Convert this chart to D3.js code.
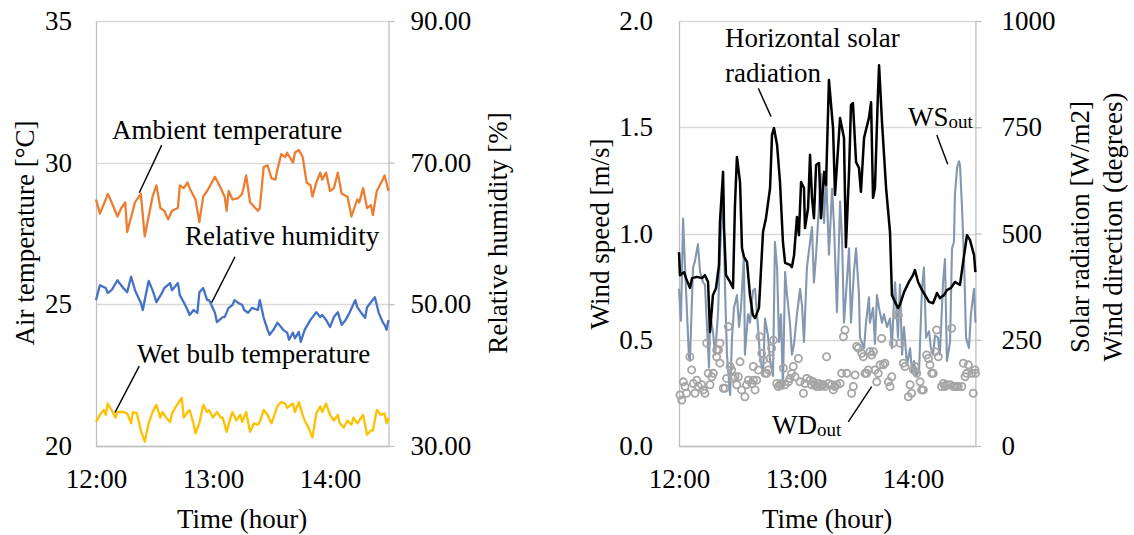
<!DOCTYPE html>
<html>
<head>
<meta charset="utf-8">
<script src="https://cdn.jsdelivr.net/npm/d3@7"></script>
<style>
body { margin: 0; background: #fff; }
svg { display: block; font-family: "Liberation Serif", "Times New Roman", serif; }
</style>
</head>
<body>
<svg id="chart" width="1134" height="535"></svg>
<script>
// all series: [minutes after 12:00, value]
var ambientTemp = [[0,28.7],[2,28.2],[5,28.7],[6,28.9],[8,28.6],[11,28.1],[13,28.4],[15,28.6],[16,27.55],[20,28.6],[23,28.9],[25,27.4],[29,28.8],[31,29.2],[33,28.4],[35,28.3],[37,28.0],[39,28.3],[42,28.4],[43,29.2],[45,29.1],[47,29.3],[48,29.1],[51,28.7],[53,27.9],[55,28.8],[57,29.0],[61,29.5],[64,29.1],[66,28.8],[67,28.3],[68,29.0],[70,28.7],[73,28.75],[75,28.9],[77,29.55],[79,28.6],[83,28.3],[84,28.4],[86,29.85],[88,29.9],[90,29.45],[92,29.4],[93,29.75],[95,30.3],[97,30.2],[98,30.35],[101,30.0],[102,30.35],[104,30.45],[106,30.2],[108,29.3],[110,29.2],[111,28.8],[113,29.3],[115,29.65],[116,29.4],[118,29.65],[120,29.0],[122,29.1],[124,29.65],[126,28.9],[129,28.8],[131,28.1],[134,28.7],[135,28.6],[137,29.1],[139,28.4],[141,28.5],[142,28.15],[144,29.0],[147,29.4],[148,29.55],[150,29.0]];

var relHumidity = [[0,50.6],[2,52.7],[5,52.3],[6,51.6],[8,52.0],[11,53.4],[12,53.0],[14,52.3],[16,51.7],[18,53.9],[20,52.0],[23,50.2],[24,49.2],[26,52.0],[27,53.3],[29,52.0],[31,50.3],[34,51.7],[35,52.3],[38,53.0],[39,52.0],[42,53.0],[43,51.3],[45,50.3],[47,49.2],[48,48.5],[50,49.2],[52,48.8],[53,51.7],[55,52.3],[57,50.6],[58,50.6],[61,48.8],[62,47.5],[65,48.2],[66,48.2],[68,49.5],[70,49.9],[71,50.6],[73,50.2],[75,49.9],[76,49.2],[78,48.8],[80,49.5],[83,49.2],[84,50.6],[86,48.1],[88,46.4],[89,45.7],[91,46.4],[93,47.4],[94,47.1],[96,46.4],[98,46.0],[99,45.0],[101,46.0],[102,45.2],[104,46.1],[105,44.7],[107,46.4],[110,47.8],[113,48.9],[115,48.2],[116,48.5],[118,47.8],[120,46.8],[122,48.2],[124,48.9],[126,47.1],[128,47.8],[130,48.8],[133,50.6],[134,49.6],[136,48.8],[138,48.1],[139,49.6],[143,51.0],[145,48.8],[147,47.5],[148,47.1],[149,46.4],[150,47.8]];

var wetBulbTemp = [[0,20.85],[2,21.1],[4,21.27],[5,21.1],[6,21.5],[8,21.27],[10,21.0],[11,21.2],[14,21.2],[16,21.15],[18,20.8],[19,21.2],[21,21.15],[23,20.55],[25,20.15],[27,20.8],[29,21.2],[31,21.45],[33,21.0],[34,21.2],[36,21.0],[38,20.85],[39,21.15],[41,21.4],[44,21.7],[45,21.0],[47,21.2],[48,21.27],[50,20.8],[51,20.45],[53,20.8],[55,21.45],[57,21.2],[58,21.27],[60,21.0],[62,21.2],[64,21.0],[65,21.0],[67,20.5],[69,21.0],[70,21.2],[72,20.9],[74,21.1],[75,20.85],[77,21.2],[79,20.5],[81,20.8],[83,20.75],[84,20.85],[86,21.27],[88,21.1],[90,20.8],[92,21.2],[93,21.4],[95,21.55],[97,21.5],[98,21.35],[101,21.5],[102,21.2],[104,21.55],[106,21.1],[107,20.9],[109,20.65],[111,20.3],[113,21.15],[115,21.4],[116,21.2],[118,21.5],[120,21.1],[122,20.9],[124,21.1],[125,20.8],[127,20.65],[129,20.9],[131,20.75],[132,21.0],[134,20.8],[135,20.9],[137,21.1],[139,20.4],[141,20.55],[142,20.55],[144,21.27],[146,21.1],[148,21.15],[149,20.8],[150,21.0]];

var solarRad = [[0,456],[0.5,402],[2.6,409],[3.6,395],[5.6,372],[6.7,395],[9.2,398],[11.8,395],[13.3,402],[14.9,386],[15.9,268],[17.4,355],[19,372],[20.5,426],[21,527],[22.6,645],[23.1,513],[24.1,402],[26.2,386],[27.7,372],[28.7,567],[29.7,680],[31.3,621],[32.3,466],[33.3,445],[34.9,433],[36.4,355],[37.9,308],[39,301],[41,325],[43.1,504],[44.6,536],[46.7,607],[47.7,732],[48.7,748],[50.3,708],[51.8,621],[53.3,480],[54.4,431],[56.9,426],[57.9,421],[59,449],[60.5,539],[61.5,496],[62.6,621],[64.1,607],[64.6,513],[66.2,560],[67.2,685],[68.2,584],[69.2,536],[70.3,661],[71.8,666],[72.8,536],[74.4,645],[75.4,614],[76.9,861],[79,748],[80,591],[82.6,772],[84.6,725],[85.6,468],[87.2,645],[88.2,802],[89.2,807],[90.8,668],[92.3,654],[93.3,598],[94.9,725],[97.4,772],[98.5,809],[99.5,584],[100.5,607],[102,826],[102.6,896],[104.1,762],[106.2,607],[108.2,504],[109.2,355],[110.8,339],[112.3,325],[113.3,332],[115.4,362],[117.9,386],[120,402],[121,414],[122.6,386],[124.6,367],[126.2,355],[128.2,339],[130.3,336],[132.3,360],[133.8,348],[135.9,355],[137.4,367],[139.5,372],[141.5,386],[144.1,379],[146.2,449],[147.7,496],[149.2,485],[151.3,449],[152,409]];

var windSpeed = [[0,0.74],[1,0.59],[2.1,1.07],[3.1,0.84],[5.1,0.42],[5.6,0.40],[7.2,0.84],[8.2,0.87],[9.7,0.95],[10.8,0.82],[12.3,0.77],[13.3,0.76],[15.4,0.37],[15.9,0.62],[17.4,0.54],[18.5,0.43],[20,0.62],[21,0.90],[22.6,1.21],[23.6,0.74],[24.6,0.43],[26.2,0.24],[27.2,0.51],[28.2,0.65],[29.7,0.71],[30.8,0.56],[31.8,0.65],[33.3,0.90],[33.8,0.43],[35.4,0.62],[36.4,0.58],[37.9,0.73],[39,0.74],[40.5,0.56],[41.5,0.43],[43.1,0.33],[44.1,0.60],[45.6,0.52],[46.7,0.40],[48.2,0.33],[49.2,0.96],[50.3,0.84],[51.3,0.49],[52.3,0.62],[53.3,0.27],[54.4,0.82],[55.4,0.71],[56.9,0.58],[57.9,0.43],[59,0.48],[60.5,0.62],[62.1,0.74],[63.1,0.66],[64.1,0.49],[65.6,0.84],[67.2,0.96],[68.2,1.03],[69.2,0.77],[70.3,0.90],[71.8,1.13],[72.8,1.28],[74.4,1.05],[75.4,1.29],[76.9,0.90],[78.5,1.21],[79.5,1.04],[81,0.63],[82.6,1.15],[83.6,0.98],[84.6,0.58],[85.6,0.71],[87.2,0.93],[88.2,0.58],[89.7,0.82],[90.8,0.93],[92.3,0.71],[92.8,0.51],[94.9,0.46],[95.9,0.58],[97.4,0.70],[97.9,0.58],[99.5,0.65],[100.5,0.48],[101.5,0.71],[102.6,0.65],[104.1,0.58],[105.1,0.62],[106.7,0.56],[108.2,0.60],[109.2,0.46],[110.3,0.70],[110.8,0.77],[112.3,0.51],[113.3,0.76],[114.4,0.43],[115.4,0.56],[116.9,0.38],[118.5,0.46],[119.5,0.35],[120.5,0.40],[121.5,0.33],[123.1,0.35],[124.6,0.74],[125.6,0.84],[126.7,0.51],[128.2,0.54],[129.2,0.46],[130.3,0.43],[131.3,0.52],[132.8,0.51],[133.8,0.43],[135.4,0.77],[136.4,0.88],[137.4,0.40],[139,0.49],[140,0.93],[141,0.96],[141.5,1.18],[142.6,1.31],[143.6,1.34],[144.1,1.32],[145.1,1.13],[146.2,0.87],[147.2,0.51],[148.7,0.46],[149.7,0.62],[151.3,0.74],[152,0.58]];

var windDir = [[0.5,120],[1.4,108],[2.2,151],[3.1,140],[3.9,124],[5.6,210],[6.5,179],[7.4,147],[8.2,124],[9.1,155],[9.9,140],[11.6,144],[12.5,132],[13.3,124],[14.2,242],[15,171],[15.9,144],[16.8,163],[17.6,171],[19.3,210],[19.3,226],[20.2,226],[21,242],[21,195],[22.7,136],[23.6,136],[24.4,159],[25.3,281],[26.2,187],[27,179],[27.9,159],[28.7,163],[29.6,144],[30.4,163],[31.3,198],[32.1,132],[33.8,116],[34.7,144],[35.6,155],[37.3,147],[38.1,155],[38.1,187],[39,132],[39.8,155],[40.7,179],[41.5,257],[42.4,218],[43.2,202],[44.1,171],[45,171],[45.8,179],[46.7,206],[47.5,230],[48.4,249],[50.1,147],[50.9,140],[51.8,144],[52.6,147],[53.5,183],[54.4,144],[56.1,151],[56.9,159],[57.8,171],[58.6,187],[59.5,163],[61.2,206],[62,151],[63.8,124],[64.6,147],[65.5,159],[67.2,155],[68,144],[68.9,151],[69.7,144],[70.6,140],[71.5,147],[72.3,140],[73.2,144],[74,144],[74.9,140],[75.7,210],[76.6,147],[78.3,144],[79.1,132],[80,140],[80.9,144],[82.6,147],[83.4,171],[84.3,257],[85.1,273],[86,171],[88.5,124],[89.4,140],[90.3,167],[91.1,234],[92,230],[93.7,218],[94.5,210],[95.4,171],[96.2,171],[97.1,179],[97.9,222],[98.8,214],[99.7,222],[100.5,179],[101.4,151],[102.2,171],[103.1,191],[103.9,253],[104.8,191],[105.6,195],[107.4,151],[108.2,140],[109.1,163],[109.9,242],[111.6,308],[112.5,308],[113.3,242],[115,195],[115.9,187],[117.6,116],[118.5,144],[119.3,124],[120.2,179],[121,187],[121.9,171],[123.6,151],[124.4,132],[125.3,132],[127,214],[127.9,206],[128.7,191],[129.6,171],[130.4,171],[131.3,222],[132.1,273],[133,210],[134.7,140],[135.6,147],[136.4,140],[137.3,144],[139,144],[139.8,277],[140.7,140],[141.5,140],[142.4,140],[143.2,140],[145,140],[145.8,195],[146.7,163],[147.5,171],[148.4,191],[150.1,171],[150.9,124],[151.8,179],[152,171]];

var timeTicks = [0, 60, 120];
var timeLabels = ['12:00', '13:00', '14:00'];
var tempTicks = [20, 25, 30, 35];
var rhTicks = [30, 50, 70, 90];
var wsTicks = [0, 0.5, 1, 1.5, 2];
var solarTicks = [0, 250, 500, 750, 1000];

var FONT = 27,
	TOP = 21,
	BOTTOM = 446,
	GRID = '#d9d9d9',
	AXIS = '#bfbfbf';

var svg = d3.select('#chart');
svg.append('rect').attr('width', 1134).attr('height', 535).attr('fill', '#fff');

// scales
var xL = d3.scaleLinear().domain([0, 150]).range([96, 388.5]),
	yTemp = d3.scaleLinear().domain([20, 35]).range([BOTTOM, TOP]),
	yRH = d3.scaleLinear().domain([30, 90]).range([BOTTOM, TOP]);

var xR = d3.scaleLinear().domain([0, 152]).range([679, 975.4]),
	yWS = d3.scaleLinear().domain([0, 2]).range([BOTTOM, TOP]),
	ySolar = d3.scaleLinear().domain([0, 1000]).range([BOTTOM, TOP]);

function styleAxis(g)
{
	g.attr('font-family', null).attr('font-size', FONT);
	g.select('.domain').attr('stroke', AXIS).attr('stroke-width', 1.3);
	g.selectAll('.tick line').attr('stroke', AXIS).attr('stroke-width', 1.3);
	g.selectAll('.tick text').attr('fill', '#000');
}

function grid(x, y, ticks)
{
	svg.append('g').selectAll('line').data(ticks).enter().append('line')
		.attr('x1', x.range()[0]).attr('x2', x.range()[1])
		.attr('y1', function(d){ return Math.round(y(d)) + 0.5; })
		.attr('y2', function(d){ return Math.round(y(d)) + 0.5; })
		.attr('stroke', GRID).attr('stroke-width', 1.3);
}

function frame(x, yLeft, yRight, leftTicks, rightTicks, rightFmt, leftPad, rightPad)
{
	grid(x, yLeft, leftTicks);

	svg.append('g')
		.attr('transform', 'translate(' + x.range()[0] + ',0)')
		.call(d3.axisLeft(yLeft).tickValues(leftTicks).tickSize(0).tickPadding(leftPad)
			.tickFormat(leftTicks[1] % 1 ? d3.format('.1f') : d3.format('d')))
		.call(styleAxis);

	svg.append('g')
		.attr('transform', 'translate(' + x.range()[1] + ',0)')
		.call(d3.axisRight(yRight).tickValues(rightTicks).tickSizeInner(6).tickSizeOuter(0)
			.tickPadding(rightPad).tickFormat(rightFmt))
		.call(styleAxis);

	svg.append('g')
		.attr('transform', 'translate(0,' + BOTTOM + ')')
		.call(d3.axisBottom(x).tickValues(timeTicks).tickSize(0).tickPadding(23)
			.tickFormat(function(d, i){ return timeLabels[i]; }))
		.call(styleAxis);
}

function drawLine(data, x, y, color, width)
{
	svg.append('path')
		.datum(data)
		.attr('fill', 'none')
		.attr('stroke', color)
		.attr('stroke-width', width)
		.attr('stroke-linejoin', 'round')
		.attr('d', d3.line().x(function(d){ return x(d[0]); }).y(function(d){ return y(d[1]); }));
}

function title(txt, x, y, rotate)
{
	svg.append('text')
		.attr('transform', 'translate(' + x + ',' + y + ')' + (rotate ? ' rotate(-90)' : ''))
		.attr('text-anchor', 'middle')
		.attr('dy', rotate ? '0.35em' : 0)
		.attr('font-size', FONT)
		.text(txt);
}

function label(parts, x, y)
{
	var t = svg.append('text').attr('x', x).attr('y', y).attr('font-size', FONT);
	parts.forEach(function(p)
	{
		var s = t.append('tspan').text(p.text);
		if (p.sub) s.attr('font-size', 19).attr('dy', 2);
	});
}

function leader(x, y, a, b)
{
	svg.append('line')
		.attr('x1', x(a[0])).attr('y1', y(a[1]))
		.attr('x2', x(b[0])).attr('y2', y(b[1]))
		.attr('stroke', '#000').attr('stroke-width', 1.4);
}

// ---- left panel
frame(xL, yTemp, yRH, tempTicks, rhTicks, d3.format('.2f'), 24, 16);

drawLine(ambientTemp, xL, yTemp, '#ED7D31', 2.3);
drawLine(relHumidity, xL, yRH, '#4472C4', 2.3);
drawLine(wetBulbTemp, xL, yTemp, '#FFC000', 2.3);

title('Air temperature [°C]', 25, 233, true);
title('Relative humidity [%]', 498, 233, true);
title('Time (hour)', 242, 528, false);

label([{text: 'Ambient temperature'}], xL(8.2), yTemp(30.84));
leader(xL, yTemp, [33.7, 30.62], [22.2, 28.94]);
label([{text: 'Relative humidity'}], xL(45.6), yTemp(27.1));
leader(xL, yTemp, [71.3, 26.68], [59.3, 25.06]);
label([{text: 'Wet bulb temperature'}], xL(21), yTemp(22.93));
leader(xL, yTemp, [22.2, 22.82], [9.7, 21.18]);

// ---- right panel
frame(xR, yWS, ySolar, wsTicks, solarTicks, d3.format('d'), 26, 20);

drawLine(windSpeed, xR, yWS, '#8497B0', 2.1);
drawLine(solarRad, xR, ySolar, '#000', 2.5);

svg.append('g').selectAll('circle').data(windDir).enter().append('circle')
	.attr('cx', function(d){ return xR(d[0]); })
	.attr('cy', function(d){ return ySolar(d[1]); })
	.attr('r', 3.6)
	.attr('fill', 'none')
	.attr('stroke', '#A5A5A5')
	.attr('stroke-width', 1.8);

title('Wind speed [m/s]', 600, 234, true);
title('Solar radiation [W/m2]', 1080, 227, true);
title('Wind direction (degrees)', 1113, 227, true);
title('Time (hour)', 827, 528, false);

label([{text: 'Horizontal solar'}], xR(23.6), yWS(1.878));
label([{text: 'radiation'}], xR(23.6), yWS(1.713));
leader(xR, yWS, [40.7, 1.683], [47.2, 1.55]);
label([{text: 'WS'}, {text: 'out', sub: true}], xR(117.4), yWS(1.506));
leader(xR, yWS, [132.2, 1.464], [137.8, 1.326]);
label([{text: 'WD'}, {text: 'out', sub: true}], xR(47.7), yWS(0.056));
leader(xR, yWS, [86.8, 0.114], [98.8, 0.279]);
</script>
</body>
</html>
